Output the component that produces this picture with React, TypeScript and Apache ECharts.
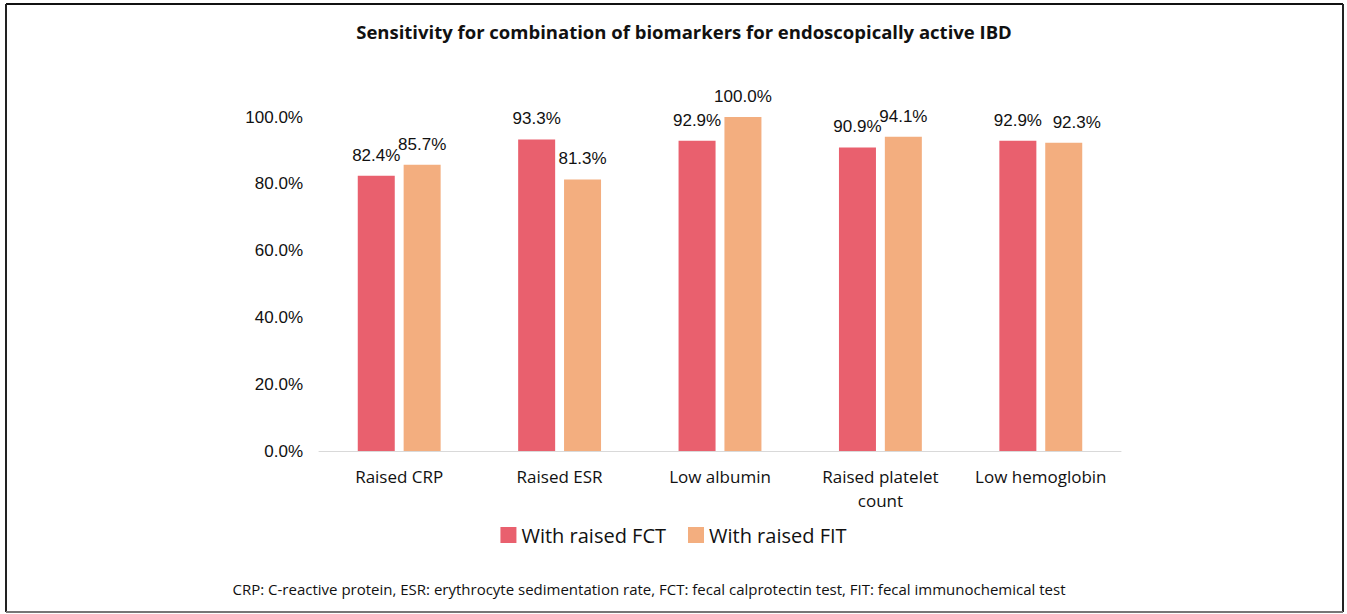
import React, { useEffect, useRef } from "react";
import * as echarts from "echarts";

const categories = ["Raised CRP", "Raised ESR", "Low albumin", "Raised platelet\ncount", "Low hemoglobin"];
const fctValues = [82.4, 93.3, 92.9, 90.9, 92.9];
const fitValues = [85.7, 81.3, 100.0, 94.1, 92.3];
const seriesNames = ["With raised FCT", "With raised FIT"];
const titleText = "Sensitivity for combination of biomarkers for endoscopically active IBD";
const footnote = "CRP: C-reactive protein, ESR: erythrocyte sedimentation rate, FCT: fecal calprotectin test, FIT: fecal immunochemical test";

export default function App() {
  const ref = useRef<HTMLDivElement>(null);
  useEffect(() => {
    if (!ref.current) return;
    const chart = echarts.init(ref.current, null, { renderer: "svg" });
    const labelFont = "'Liberation Sans', Arial, Helvetica, sans-serif";
    const calibri = "'Open Sans', 'Noto Sans', sans-serif";
    const fitData = fitValues.map((v, i) =>
      i === 4 ? { value: v, label: { offset: [13, 0] } } : v
    );
    chart.setOption({
      animation: false,
      backgroundColor: "#ffffff",
      title: {
        text: titleText,
        left: 679,
        textAlign: "center",
        top: 17,
        textStyle: { fontFamily: calibri, fontWeight: "bold", fontSize: 18.5, color: "#111" },
      },
      legend: {
        data: seriesNames,
        left: "center",
        top: 520,
        itemWidth: 16,
        itemHeight: 16,
        itemGap: 22,
        icon: "rect",
        textStyle: { fontFamily: calibri, fontSize: 20, color: "#111" },
      },
      grid: { left: 319, right: 226, top: 117, bottom: 163, containLabel: false },
      xAxis: {
        type: "category",
        data: categories,
        axisLine: { show: true, lineStyle: { color: "#d9d9d9", width: 1 } },
        axisTick: { show: false },
        axisLabel: {
          fontFamily: calibri,
          fontSize: 17,
          color: "#111",
          margin: 13,
          lineHeight: 24,
          interval: 0,
        },
      },
      yAxis: {
        type: "value",
        min: 0,
        max: 100,
        interval: 20,
        axisLine: { show: false },
        axisTick: { show: false },
        splitLine: { show: false },
        axisLabel: {
          fontFamily: labelFont,
          fontSize: 17,
          color: "#111",
          margin: 16,
          formatter: (v: number) => v.toFixed(1) + "%",
        },
      },
      series: [
        {
          name: seriesNames[0],
          type: "bar",
          data: fctValues,
          barWidth: 37,
          barGap: "24%",
          itemStyle: { color: "#E9606E" },
          label: {
            show: true,
            position: "top",
            distance: 12,
            fontFamily: labelFont,
            fontSize: 17,
            color: "#111",
            formatter: (p: any) => p.value.toFixed(1) + "%",
          },
        },
        {
          name: seriesNames[1],
          type: "bar",
          data: fitData,
          barWidth: 37,
          itemStyle: { color: "#F3AE7F" },
          label: {
            show: true,
            position: "top",
            distance: 12,
            fontFamily: labelFont,
            fontSize: 17,
            color: "#111",
            formatter: (p: any) => p.value.toFixed(1) + "%",
          },
        },
      ],
      graphic: [
        {
          type: "text",
          x: 649,
          y: 589,
          style: {
            text: footnote,
            fontFamily: calibri,
            fontSize: 15,
            fill: "#111",
            align: "center",
            verticalAlign: "middle",
          },
        },
        { type: "line", shape: { x1: 6, y1: 4, x2: 1343, y2: 4 }, style: { stroke: "#111", lineWidth: 2 } },
        { type: "line", shape: { x1: 6, y1: 4, x2: 6, y2: 612 }, style: { stroke: "#222", lineWidth: 2 } },
        { type: "line", shape: { x1: 1343, y1: 4, x2: 1343, y2: 612 }, style: { stroke: "#222", lineWidth: 2 } },
        { type: "line", shape: { x1: 6, y1: 612, x2: 1343, y2: 612 }, style: { stroke: "#777", lineWidth: 2 } },
      ],
    });
    return () => chart.dispose();
  }, []);
  return <div ref={ref} style={{ position: "fixed", left: 0, top: 0, width: 1347, height: 614 }} />;
}
